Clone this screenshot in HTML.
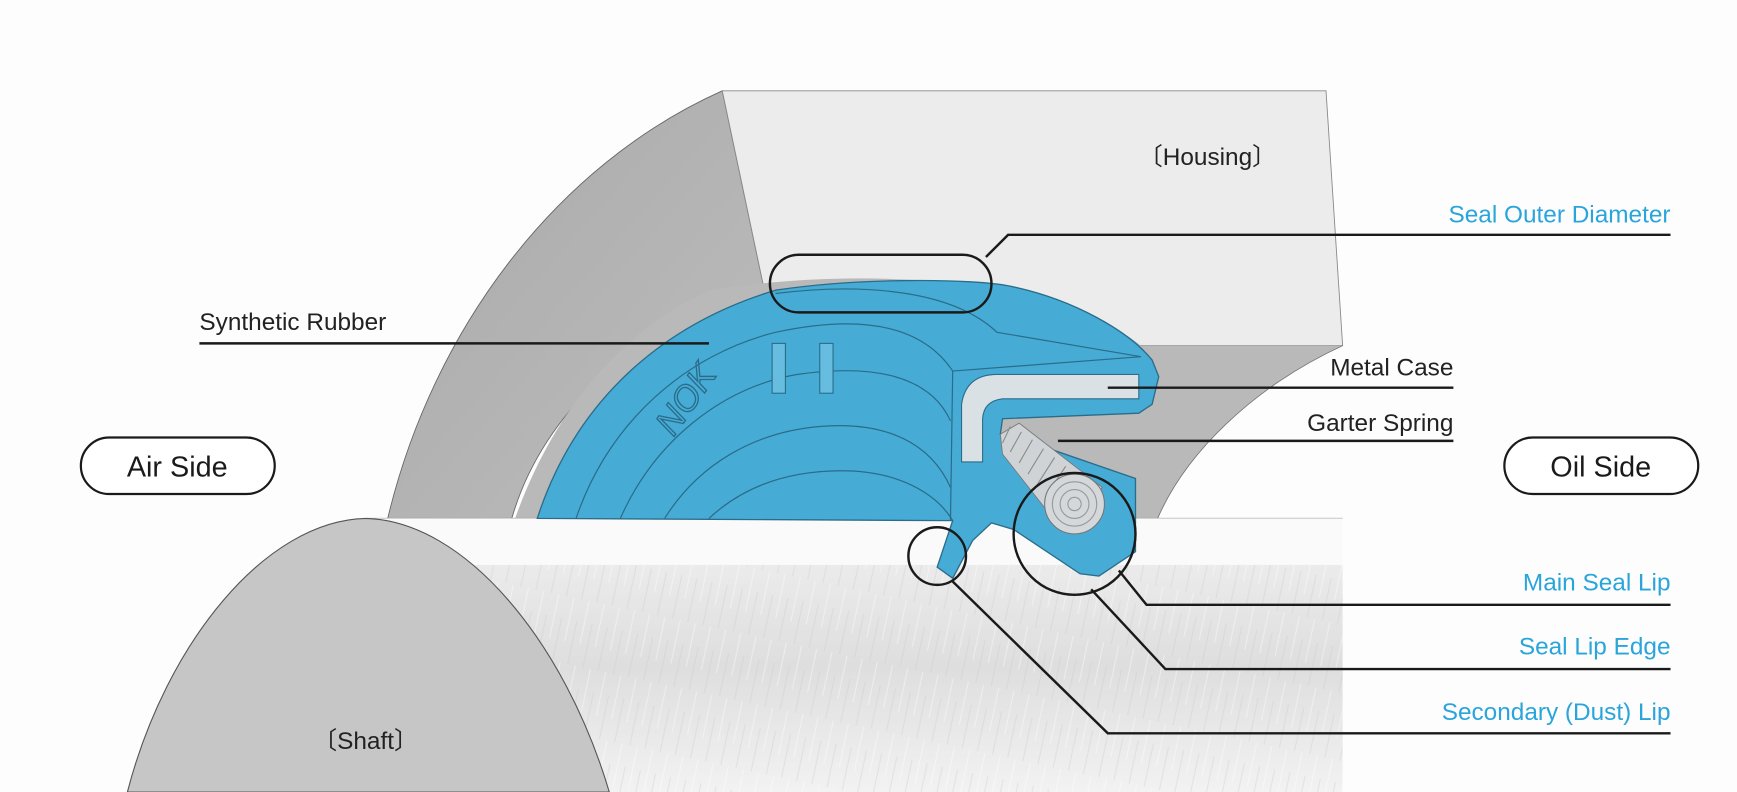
<!DOCTYPE html>
<html><head><meta charset="utf-8"><style>
html,body{margin:0;padding:0;background:#fdfdfd;}
svg{display:block;}
text{font-family:"Liberation Sans",sans-serif;}
</style></head><body>
<svg width="1737" height="792" viewBox="0 0 1568 715" preserveAspectRatio="none" xmlns="http://www.w3.org/2000/svg">
<defs>
<linearGradient id="shaft" x1="0" y1="0" x2="0" y2="1">
<stop offset="0" stop-color="#ebebeb"/><stop offset="0.45" stop-color="#dedede"/><stop offset="1" stop-color="#f2f2f2"/>
</linearGradient>
<linearGradient id="gsec" x1="0" y1="0" x2="1" y2="1">
<stop offset="0" stop-color="#a9a9a9"/><stop offset="1" stop-color="#bdbdbd"/>
</linearGradient>
<pattern id="streak" width="14" height="60" patternUnits="userSpaceOnUse" patternTransform="rotate(12)">
<rect width="14" height="60" fill="none"/><line x1="3" y1="0" x2="3" y2="40" stroke="#fff" stroke-width="1" opacity="0.4"/><line x1="10" y1="20" x2="10" y2="60" stroke="#c8c8c8" stroke-width="1" opacity="0.35"/>
</pattern>
</defs>
<rect width="1568" height="715" fill="#fdfdfd"/>
<!-- left outer gray sector -->
<path d="M350,468 C390,300 500,150 652,82 L690,262 C580,290 490,370 462,468 Z" fill="url(#gsec)" stroke="#666" stroke-width="0.8"/>
<!-- housing face -->
<path d="M652,82 L1197,82 L1212,312 L1030,312 L690,262 Z" fill="#ececec" stroke="#888" stroke-width="0.8"/>
<!-- bore gray -->
<path d="M640,262 C780,240 950,250 1030,312 L1212,312 C1130,350 1070,410 1045,468 L465,468 C500,370 560,300 640,262 Z" fill="#b9b9b9"/>
<path d="M1212,312 C1130,350 1070,410 1045,468" fill="none" stroke="#777" stroke-width="0.8"/>
<line x1="330" y1="468" x2="1212" y2="468" stroke="#999" stroke-width="1"/>
<!-- shaft -->
<rect x="330" y="468" width="882" height="42" fill="#fafafa"/>
<rect x="330" y="510" width="882" height="205" fill="url(#shaft)"/>
<rect x="330" y="510" width="882" height="205" fill="url(#streak)"/>
<path d="M115,715 C150,580 240,470 330,468 C420,470 510,580 550,715 Z" fill="#c6c6c6" stroke="#555" stroke-width="1"/>
<!-- seal -->
<path d="M485,468 C520,360 600,292 700,262 C780,250 880,252 910,258 C970,270 1020,300 1040,325 L1046,340 L1040,365 L1028,373 L905,378 L903,392 L915,394 L1025,432 L1025,498 L992,520 L975,518 L915,478 L895,472 L878,488 L860,522 L846,512 L860,470 Z" fill="#47acd5" stroke="#2a6c8a" stroke-width="1.2"/>
<g fill="none" stroke="#2a6c8a" stroke-width="1.1">
<path d="M520,468 C550,380 620,320 700,300 C770,285 830,290 860,335"/>
<path d="M560,468 C590,400 650,350 720,338 C790,328 840,340 858,380"/>
<path d="M600,468 C630,420 680,390 740,385 C800,380 840,400 858,440"/>
<path d="M640,468 C670,440 710,425 760,425 C810,425 845,445 860,470"/>
<path d="M700,265 C780,255 860,262 900,300 L1030,322"/>
<path d="M860,335 L1030,322"/>
<path d="M860,335 L858,470"/>
</g>
<rect x="697" y="310" width="12" height="45" fill="#66bde0" stroke="#2a6c8a" stroke-width="1"/>
<rect x="740" y="310" width="12" height="45" fill="#66bde0" stroke="#2a6c8a" stroke-width="1"/>
<text x="0" y="0" transform="translate(608,395) rotate(-55)" font-size="32" font-style="italic" fill="none" stroke="#2a6c8a" stroke-width="1.2">NOK</text>
<!-- metal case -->
<path d="M868,417 L868,365 Q872,338 900,338 L1028,338 L1028,360 L905,360 Q888,362 887,378 L887,417 Z" fill="#d9e1e5" stroke="#2a6c8a" stroke-width="1"/>
<!-- spring -->
<g>
<path d="M903,392 L920,382 L995,440 L960,480 L905,410 Z" fill="#cfd3d6" stroke="#777" stroke-width="0.8"/>
<g stroke="#8a8a8a" stroke-width="1" fill="none">
<path d="M912,385 L905,400"/><path d="M922,390 L912,408"/><path d="M932,397 L920,418"/><path d="M942,405 L928,428"/><path d="M952,413 L936,438"/><path d="M962,421 L944,448"/>
</g>
<circle cx="970" cy="455" r="27" fill="#d4d8db" stroke="#777" stroke-width="1"/>
<circle cx="970" cy="455" r="20" fill="none" stroke="#999" stroke-width="1"/>
<circle cx="970" cy="455" r="13" fill="none" stroke="#999" stroke-width="1"/>
<circle cx="970" cy="455" r="6" fill="none" stroke="#999" stroke-width="1"/>
</g>
<!-- callouts -->
<g fill="none" stroke="#1a1a1a" stroke-width="2.2">
<rect x="695" y="230" width="200" height="52" rx="26"/>
<circle cx="846" cy="502" r="26"/>
<circle cx="970" cy="482" r="55"/>
<path d="M890,232 L910,212 L1508,212"/>
<path d="M180,310 L640,310"/>
<path d="M1000,350 L1312,350"/>
<path d="M955,398 L1312,398"/>
<path d="M1010,515 L1035,546 L1508,546"/>
<path d="M985,532 L1052,604 L1508,604"/>
<path d="M860,525 L1000,662 L1508,662"/>
</g>
<rect x="73" y="395" width="175" height="51" rx="25.5" fill="#fff" stroke="#1a1a1a" stroke-width="2"/>
<rect x="1358" y="395" width="175" height="51" rx="25.5" fill="#fff" stroke="#1a1a1a" stroke-width="2"/>
<g font-size="26" fill="#1a1a1a" text-anchor="middle">
<text x="160" y="430">Air Side</text>
<text x="1445" y="430">Oil Side</text>
</g>
<g font-size="22" fill="#222">
<text x="1090" y="149" text-anchor="middle">〔Housing〕</text>
<text x="330" y="676" text-anchor="middle">〔Shaft〕</text>
<text x="180" y="298">Synthetic Rubber</text>
<text x="1312" y="339" text-anchor="end">Metal Case</text>
<text x="1312" y="389" text-anchor="end">Garter Spring</text>
</g>
<g font-size="22" fill="#2aa5dc" text-anchor="end">
<text x="1508" y="201">Seal Outer Diameter</text>
<text x="1508" y="533">Main Seal Lip</text>
<text x="1508" y="591">Seal Lip Edge</text>
<text x="1508" y="650">Secondary (Dust) Lip</text>
</g>
</svg>
</body></html>
